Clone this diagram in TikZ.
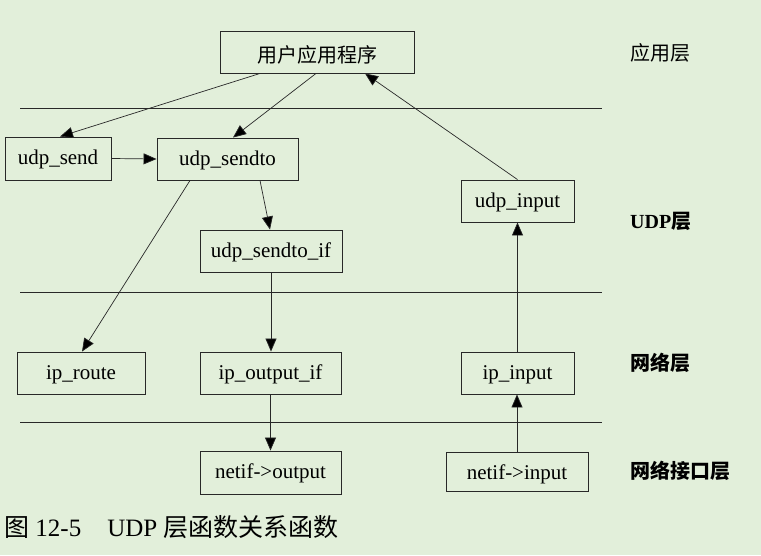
\documentclass[tikz,border=0pt]{standalone}
\usepackage{fontspec}
\setmainfont{Liberation Serif}
\newfontfamily\cjk{Noto Sans CJK SC}
\usetikzlibrary{arrows.meta}
\definecolor{bg}{RGB}{226,239,218}
\definecolor{ink}{RGB}{40,40,40}
\begin{document}
\begin{tikzpicture}[x=1pt,y=-1pt,
  fn/.style={draw=ink,line width=0.9pt,rectangle,inner sep=0pt,text=black,text height=16pt,text depth=4pt,font=\fontsize{21}{24}\selectfont},
  lay/.style={anchor=base west,inner sep=0pt,font=\fontsize{20}{24}\selectfont\cjk},
  sep/.style={draw=ink,line width=0.9pt},
  arr/.style={draw=ink,line width=0.7pt,-{Triangle[length=13pt,width=11pt,fill=black]}}]
\fill[bg] (0,0) rectangle (761,555);
\useasboundingbox (0,0) rectangle (761,555);
% separators
\coordinate (s1l) at (20,108); \coordinate (s1r) at (602,108);
\coordinate (s2l) at (20,292); \coordinate (s2r) at (602,292);
\coordinate (s3l) at (20,422); \coordinate (s3r) at (602,422);
\draw[sep] (s1l) -- (s1r);
\draw[sep] (s2l) -- (s2r);
\draw[sep] (s3l) -- (s3r);
% nodes
\node[fn,minimum width=194pt,minimum height=42pt,text height=22pt,text depth=1pt] (app) at (317,52) {\fontsize{20}{24}\selectfont\cjk 用户应用程序};
\node[fn,minimum width=106pt,minimum height=43pt] (send) at (58,158.5) {udp\_send};
\node[fn,minimum width=141pt,minimum height=42pt] (sendto) at (227.5,159) {udp\_sendto};
\node[fn,minimum width=113pt,minimum height=42pt] (uin) at (517.5,201) {udp\_input};
\node[fn,minimum width=142pt,minimum height=42pt] (sendif) at (271,251) {udp\_sendto\_if};
\node[fn,minimum width=128pt,minimum height=42pt] (route) at (81,373) {ip\_route};
\node[fn,minimum width=141pt,minimum height=42pt] (outif) at (270.5,373) {ip\_output\_if};
\node[fn,minimum width=113pt,minimum height=42pt] (ipin) at (517.5,373) {ip\_input};
\node[fn,minimum width=141pt,minimum height=43pt] (nout) at (270.5,472.5) {netif->output};
\node[fn,minimum width=142pt,minimum height=39pt,text height=18pt,text depth=3pt] (nin) at (517,471.5) {netif->input};
% layer labels
\node[lay] (l1) at (630,60) {应用层};
\node[lay] (l2) at (630,228) {\bfseries{\rmfamily UDP}层};
\node[lay] (l3) at (630,370) {\bfseries 网络层};
\node[lay] (l4) at (630,478) {\bfseries 网络接口层};
% caption
\node[anchor=base west,inner sep=0pt,font=\fontsize{25}{28}\selectfont] (cap) at (4,536) {{\cjk 图} 12-5\hspace{26pt}UDP {\cjk 层函数关系函数}};
% arrows
\draw[arr] ([xshift=-57pt]app.south) -- ([xshift=2pt]send.north);
\draw[arr] ([xshift=-1pt]app.south) -- ([xshift=5.5pt]sendto.north);
\draw[arr] (send.east) -- (sendto.west);
\draw[arr] ([xshift=-37.5pt]sendto.south) -- ([xshift=1pt]route.north);
\draw[arr] ([xshift=32.5pt]sendto.south) -- ([xshift=-1pt]sendif.north);
\draw[arr] (sendif.south) -- (sendif.south |- outif.north);
\draw[arr] (outif.south) -- (outif.south |- nout.north);
\draw[arr] (nin.north) -- (nin.north |- ipin.south);
\draw[arr] (ipin.north) -- (ipin.north |- uin.south);
\draw[arr] (uin.north) -- ([xshift=48pt]app.south);
\end{tikzpicture}
\end{document}
